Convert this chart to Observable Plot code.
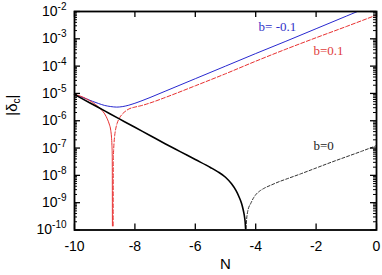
<!DOCTYPE html>
<html><head><meta charset="utf-8">
<script src="https://cdn.jsdelivr.net/npm/d3@7"></script>
<script src="https://cdn.jsdelivr.net/npm/@observablehq/plot@0.6"></script>
<style>body{margin:0;background:#fff} svg{display:block}</style>
</head><body><div id="chart"></div>
<script>
// ---- data (log10 of |delta_c|) ----
const blueN   = [-10, -9.8, -9.6, -9.4, -9.2, -9.0, -8.8, -8.6, -8.4, -8.2, -8.0, -7.8, -7.5, -7, -6, -5, -4, -3, -2, -1, -0.63];
const blueLog = [-5.04, -5.12, -5.2, -5.29, -5.37, -5.44, -5.48, -5.5, -5.48, -5.43, -5.36, -5.28, -5.15, -4.92, -4.46, -4.0, -3.54, -3.09, -2.63, -2.17, -2.0];

const redSolidN   = [-10, -9.8, -9.6, -9.4, -9.2, -9.1, -9.0, -8.95, -8.9, -8.85, -8.8, -8.775, -8.76, -8.75, -8.745];
const redSolidLog = [-5.04, -5.1, -5.2, -5.33, -5.5, -5.61, -5.75, -5.85, -5.97, -6.12, -6.35, -6.6, -6.9, -7.3, -9.85];

const redDashN   = [-8.72, -8.715, -8.705, -8.69, -8.67, -8.63, -8.59, -8.5, -8.42, -8.3, -8.2, -8.0, -7.8, -7.5, -7.0, -6.0, -5.0, -4.0, -3.0, -2.0, -1.0, 0];
const redDashLog = [-9.85, -7.5, -7.1, -6.8, -6.55, -6.27, -6.1, -5.88, -5.76, -5.64, -5.57, -5.5, -5.45, -5.35, -5.15, -4.72, -4.28, -3.82, -3.38, -2.96, -2.55, -2.13];

const blackSolidN   = [-10, -9.5, -9, -8.5, -8, -7.5, -7, -6.5, -6, -5.5, -5.25, -5, -4.8, -4.65, -4.55, -4.47, -4.42, -4.38, -4.35, -4.335];
const blackSolidLog = [-5.04, -5.34, -5.64, -5.94, -6.24, -6.54, -6.84, -7.13, -7.42, -7.71, -7.87, -8.07, -8.31, -8.56, -8.79, -9.02, -9.23, -9.45, -9.7, -9.95];

const blackDashN   = [-4.32, -4.3, -4.27, -4.23, -4.17, -4.08, -4.0, -3.85, -3.7, -3.5, -3.2, -3.0, -2.5, -2.0, -1.5, -1.0, -0.5, 0];
const blackDashLog = [-9.95, -9.6, -9.35, -9.17, -9.04, -8.84, -8.71, -8.56, -8.46, -8.36, -8.22, -8.14, -7.94, -7.73, -7.52, -7.32, -7.12, -6.91];

const labelText = ["b= -0.1", "b=0.1", "b=0"];
const labelN    = [-3.28, -1.59, -1.75];
const labelLog  = [-2.55, -3.45, -6.91];
const labelColor = ["#3232c8", "#e03c3c", "#222"];

const xTicks = [-10, -8, -6, -4, -2, 0];
const yExp = [-10, -9, -8, -7, -6, -5, -4, -3, -2];
const minorMult = [2, 3, 4, 5, 6, 7, 8, 9];

// ---- tables ----
const table = (N, L) => N.map((n, i) => ({N: n, v: Math.pow(10, L[i])}));
const blue = table(blueN, blueLog);
const redSolid = table(redSolidN, redSolidLog);
const redDash = table(redDashN, redDashLog);
const blackSolid = table(blackSolidN, blackSolidLog);
const blackDash = table(blackDashN, blackDashLog);
const labels = labelText.map((t, i) => ({t, N: labelN[i], v: Math.pow(10, labelLog[i]), c: labelColor[i]}));
const yMajor = yExp.map(e => Math.pow(10, e));
const yMinor = yExp.slice(0, -1).flatMap(e => minorMult.map(m => m * Math.pow(10, e)));

const W = 382, H = 275, mL = 74, mR = 6, mT = 11, mB = 45.5;
const innerW = W - mL - mR, innerH = H - mT - mB;
const cv = "monotone-x";

const chart = Plot.plot({
  width: W, height: H,
  marginLeft: mL, marginRight: mR, marginTop: mT, marginBottom: mB,
  style: {fontFamily: "'Liberation Sans', Arial, sans-serif", background: "#fff", color: "#000"},
  x: {domain: [-10, 0]},
  y: {type: "log", domain: [1e-10, 1e-2]},
  marks: [
    Plot.line(blue, {x: "N", y: "v", stroke: "#2828d0", strokeWidth: 1, curve: cv}),
    Plot.line(redDash, {x: "N", y: "v", stroke: "#e83030", strokeWidth: 1, strokeDasharray: "4,2", curve: cv}),
    Plot.line(redSolid, {x: "N", y: "v", stroke: "#e83030", strokeWidth: 1, curve: cv}),
    Plot.line(blackDash, {x: "N", y: "v", stroke: "#333", strokeWidth: 1, strokeDasharray: "3,2", curve: cv}),
    Plot.line(blackSolid, {x: "N", y: "v", stroke: "#000", strokeWidth: 1.6, curve: cv}),
    // inward ticks
    Plot.tickX(xTicks, {x: d => d, insetTop: innerH - 6, stroke: "#000", strokeWidth: 1.3}),
    Plot.tickX(xTicks, {x: d => d, insetBottom: innerH - 6, stroke: "#000", strokeWidth: 1.3}),
    Plot.tickY(yMajor, {y: d => d, insetRight: innerW - 6, stroke: "#000", strokeWidth: 1.3}),
    Plot.tickY(yMajor, {y: d => d, insetLeft: innerW - 6, stroke: "#000", strokeWidth: 1.3}),
    Plot.tickY(yMinor, {y: d => d, insetRight: innerW - 3, stroke: "#000", strokeWidth: 1}),
    Plot.tickY(yMinor, {y: d => d, insetLeft: innerW - 3, stroke: "#000", strokeWidth: 1}),
    Plot.axisX({ticks: xTicks, tickSize: 0, tickPadding: 11, fontSize: 14, label: null, tickFormat: d => String(d)}),
    Plot.axisY({ticks: yMajor, tickSize: 0, tickPadding: 8, fontSize: 14, label: null,
      tickFormat: d => "10^" + Math.round(Math.log10(d))}),
    Plot.frame({stroke: "#000", strokeWidth: 1.8}),
    Plot.text(labels, {x: "N", y: "v", text: "t", fill: "c", fontSize: 13, fontFamily: "'Liberation Serif', 'Times New Roman', serif"}),
    Plot.text(["N"], {frameAnchor: "bottom", dy: 39, fontSize: 15}),
    Plot.text(["|δc|"], {frameAnchor: "left", dx: -62, dy: -5, rotate: -90, fontSize: 15})
  ]
});

d3.select(chart).selectAll("text").each(function () {
  const t = this.textContent;
  const s = d3.select(this);
  const m = t.match(/^10\^(-?\d+)$/);
  if (m) {
    s.text(null);
    s.append("tspan").text("10");
    s.append("tspan").attr("dy", -6).attr("font-size", 10).text(m[1]);
  } else if (t === "|δc|") {
    s.text(null);
    s.append("tspan").text("|δ");
    s.append("tspan").attr("dy", 3).attr("font-size", 10).text("c");
    s.append("tspan").attr("dy", -3).text("|");
  }
});

document.getElementById("chart").appendChild(chart);
</script>
</body></html>
